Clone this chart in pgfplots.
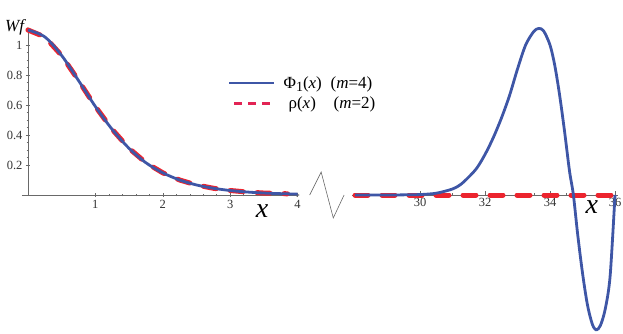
\documentclass[border=0pt]{standalone}
\usepackage{fontspec}
\setmainfont{Liberation Serif}
\usepackage{pgfplots}
\usepackage{pgfplotstable}
\pgfplotsset{compat=1.18}

\definecolor{phiblue}{RGB}{62,86,166}
\definecolor{rhored}{RGB}{236,36,46}
\definecolor{legred}{RGB}{226,36,84}
\definecolor{axgray}{RGB}{105,105,105}

% left part, x in [0,4]
\pgfplotstableread{
x y
0.00 1.100
0.25 1.054
0.50 0.930
0.75 0.763
1.00 0.590
1.25 0.437
1.50 0.311
1.75 0.215
2.00 0.148
2.25 0.100
2.50 0.067
2.75 0.045
3.00 0.030
3.25 0.020
3.50 0.013
3.75 0.009
4.00 0.006
}\phileft

\pgfplotstableread{
x y
0.00 1.100
0.25 1.054
0.50 0.930
0.75 0.763
1.00 0.590
1.25 0.437
1.50 0.311
1.75 0.215
2.00 0.148
2.25 0.100
2.50 0.067
2.75 0.045
3.00 0.030
3.25 0.020
3.50 0.013
3.85 0.008
}\rholeft

% right part, x in [28,36]
\pgfplotstableread{
x y
28.00 0.000
29.00 0.000
29.50 0.001
30.00 0.003
30.50 0.012
31.00 0.040
31.25 0.070
31.50 0.120
31.75 0.180
32.00 0.270
32.25 0.380
32.50 0.510
32.75 0.660
33.00 0.840
33.25 1.000
33.50 1.090
33.65 1.110
33.80 1.095
34.00 1.000
34.15 0.860
34.30 0.660
34.45 0.420
34.60 0.160
34.72 0.000
34.85 -0.260
35.00 -0.520
35.15 -0.730
35.30 -0.860
35.42 -0.900
35.55 -0.870
35.70 -0.760
35.85 -0.540
36.00 0.000
}\phiright

\pgfplotstableread{
x y
28.00 0
36.00 0
}\rhoright

\pgfplotsset{
  wfstyle/.style={
    axis line style={-, axgray, line width=0.5pt},
    tick style={axgray, line width=0.4pt},
    major tick length=4pt, minor tick length=2.5pt,
    tick align=inside,
    tick label style={font=\fontsize{12.5}{12.5}\selectfont, text=black!80},
    /pgf/number format/assume math mode=true,
    clip=false,
  },
  philine/.style={phiblue, line width=2.8pt, smooth, line join=round},
  rholine/.style={rhored, line width=5pt, line cap=round,
    dash pattern=on 13pt off 14pt},
}

\begin{document}
\begin{tikzpicture}
\begin{axis}[
  wfstyle,
  at={(21.9pt,138pt)}, anchor=south west,
  x=67.4pt, y=150pt,
  xmin=-0.09, xmax=4.03, ymin=0, ymax=1.12,
  axis lines=middle,
  xtick={1,2,3,4}, ytick={0.2,0.4,0.6,0.8,1},
  minor x tick num=4, minor y tick num=3,
  xlabel={\textit{x}}, ylabel={\textit{Wf}},
  xlabel style={font=\fontsize{28}{28}\selectfont, at={(axis description cs:0.865,-0.095)}, anchor=center},
  ylabel style={font=\fontsize{17}{17}\selectfont, at={(axis description cs:-0.023,1.0)}, anchor=center},
  legend style={draw=none, fill=none, at={(axis description cs:0.731,0.73)}, anchor=north west,
    font=\fontsize{17}{19}\selectfont, row sep=3pt},
  legend cell align=left,
  legend image code/.code={\draw[#1, line width=2.5pt, dash pattern=on 8pt off 6pt] (5pt,0pt) -- (45pt,0pt);},
]
\addplot[rholine, forget plot] table {\rholeft};
\addplot[philine, legend image code/.code={\draw[phiblue, line width=2.5pt] (0pt,0pt) -- (45pt,0pt);}] table {\phileft};
\addlegendentry{\hspace*{6pt}\makebox[47pt][l]{Φ\raisebox{-3pt}{\fontsize{14}{14}\selectfont 1}(\textit{x})}(\textit{m}=4)}
\addlegendimage{legred}
\addlegendentry{\hspace*{11pt}\makebox[45pt][l]{ρ(\textit{x})}(\textit{m}=2)}
% axis break mark
\draw[axgray, line width=0.6pt] (axis cs:4.18,0) -- (axis cs:4.35,0.153) -- (axis cs:4.53,-0.153) -- (axis cs:4.69,0);
\end{axis}

\begin{axis}[
  wfstyle,
  at={(351.75pt,-4.5pt)}, anchor=south west,
  x=32.5pt, y=150pt,
  xmin=27.9, xmax=36.1, ymin=-0.95, ymax=1.12,
  axis x line*=middle, axis y line=none,
  xtick={30,32,34,36}, minor x tick num=3,
  xlabel={\textit{x}},
  xlabel style={font=\fontsize{28}{28}\selectfont, at={(axis description cs:0.901,0.42)}, anchor=center},
]
\addplot[rholine] table {\rhoright};
\addplot[philine] table {\phiright};
\end{axis}

\pgfresetboundingbox
\path[use as bounding box] (0pt,0pt) rectangle (623pt,333pt);
\end{tikzpicture}
\end{document}
